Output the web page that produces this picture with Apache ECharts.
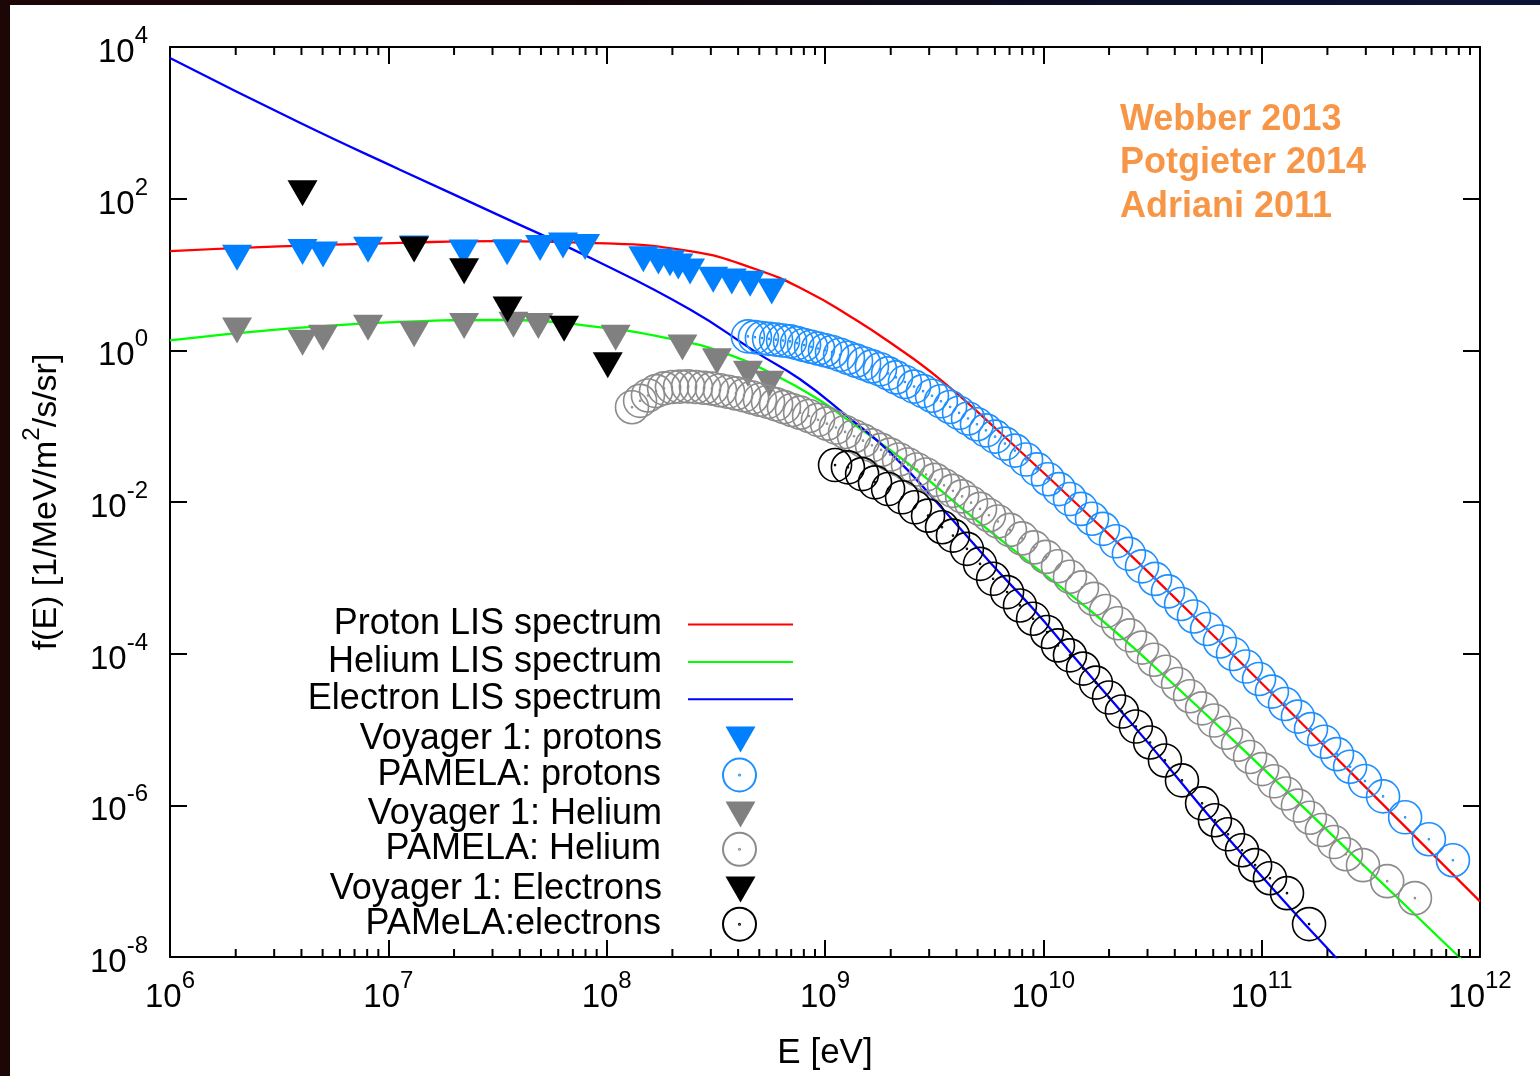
<!DOCTYPE html>
<html>
<head>
<meta charset="utf-8">
<script src="https://cdn.jsdelivr.net/npm/echarts@6/dist/echarts.min.js"></script>
<style>
html,body{margin:0;padding:0;width:1540px;height:1076px;overflow:hidden;
  background:linear-gradient(90deg,#1c0606 0%,#140608 40%,#0a0f2a 75%,#0c1436 100%);}
#chart{position:absolute;left:10px;top:5px;width:1530px;height:1071px;background:#ffffff;}
</style>
</head>
<body>
<div id="chart"></div>
<script>
// ---- data (log10 of E [eV] and log10 of f(E)) ----
const redLogE   = [6.0, 6.5, 7.053, 7.5, 7.924, 8.382, 8.687, 8.916, 9.114, 9.3, 9.527, 9.8, 10.26, 10.794, 11.4, 12.0];
const redLogF   = [1.307, 1.37, 1.417, 1.44, 1.417, 1.307, 1.066, 0.78, 0.45, 0.10, -0.382, -1.08, -2.316, -3.803, -5.543, -7.267];

const greenLogE = [6.0, 6.5, 7.0, 7.5, 7.924, 8.305, 8.534, 8.779, 8.992, 9.099, 9.374, 9.649, 9.954, 10.244, 10.489, 10.947, 11.405, 11.908, 12.0];
const greenLogF = [0.132, 0.276, 0.37, 0.40, 0.32, 0.145, -0.03, -0.338, -0.688, -0.908, -1.478, -2.136, -2.838, -3.50, -4.12, -5.35, -6.62, -8.01, -8.27];

const blueLogE  = [6.0, 6.595, 7.053, 7.5, 7.924, 8.382, 8.687, 8.886, 9.099, 9.298, 9.527, 9.770, 9.953, 10.136, 10.489, 10.794, 11.145, 11.328, 11.4];
const blueLogF  = [3.855, 3.0, 2.382, 1.79, 1.22, 0.539, -0.03, -0.382, -0.864, -1.346, -2.053, -2.842, -3.408, -4.026, -5.206, -6.259, -7.399, -7.97, -8.2];

const vpLogE = [6.307, 6.607, 6.701, 6.907, 7.118, 7.345, 7.544, 7.695, 7.800, 7.901, 8.168, 8.237, 8.290, 8.328, 8.382, 8.488, 8.573, 8.657, 8.756];
const vpLogF = [1.220, 1.296, 1.263, 1.325, 1.342, 1.289, 1.293, 1.351, 1.382, 1.364, 1.201, 1.171, 1.149, 1.105, 1.039, 0.930, 0.908, 0.878, 0.776];

const pamProtLogE = [8.647, 8.679, 8.711, 8.744, 8.776, 8.808, 8.840, 8.872, 8.904, 8.936, 8.968, 9.000, 9.032, 9.069, 9.105, 9.142, 9.179, 9.215, 9.252, 9.289, 9.325,
  9.366, 9.408, 9.449, 9.490, 9.531, 9.573, 9.614, 9.655, 9.696, 9.737, 9.779,
  9.824, 9.870, 9.921, 9.971, 10.021, 10.072, 10.122, 10.173, 10.223,
  10.273, 10.333, 10.392, 10.452, 10.512, 10.571, 10.631, 10.690, 10.750, 10.809, 10.869, 10.928, 10.988, 11.047, 11.107, 11.166, 11.226, 11.286, 11.345, 11.405, 11.473,
  11.556, 11.657, 11.766, 11.876];
const pamProtLogF = [0.184, 0.174, 0.162, 0.151, 0.141, 0.129, 0.118, 0.095, 0.071, 0.047, 0.024, 0.001, -0.022, -0.059, -0.097, -0.136, -0.174, -0.212, -0.250, -0.304, -0.357,
  -0.417, -0.478, -0.538, -0.599, -0.672, -0.747, -0.824, -0.899, -0.975, -1.055, -1.138,
  -1.230, -1.322, -1.440, -1.570, -1.700, -1.830, -1.961, -2.091, -2.221,
  -2.354, -2.518, -2.684, -2.849, -3.014, -3.179, -3.345, -3.509, -3.675, -3.839, -4.004, -4.170, -4.334, -4.500, -4.664, -4.830, -4.995, -5.161, -5.325, -5.491, -5.680,
  -5.882, -6.158, -6.447, -6.724];

const vhLogE = [6.307, 6.607, 6.701, 6.907, 7.118, 7.347, 7.573, 7.687, 8.041, 8.347, 8.505, 8.647, 8.746];
const vhLogF = [0.261, 0.101, 0.167, 0.299, 0.211, 0.320, 0.336, 0.320, 0.167, 0.036, -0.145, -0.309, -0.441];

const pamHeLogE = [8.116, 8.153, 8.189, 8.226, 8.263, 8.299, 8.336, 8.373, 8.409, 8.446, 8.482, 8.519, 8.556, 8.592, 8.629, 8.666, 8.702, 8.739, 8.776, 8.812, 8.849, 8.886,
  8.927, 8.968, 9.009, 9.050, 9.092, 9.133, 9.174, 9.215, 9.257, 9.298, 9.339, 9.380, 9.421, 9.463, 9.504, 9.545, 9.586, 9.628, 9.669, 9.710, 9.751, 9.792,
  9.847, 9.902, 9.957, 10.012, 10.067, 10.122, 10.177, 10.232, 10.287, 10.342, 10.397, 10.452, 10.507, 10.562, 10.617, 10.672, 10.727, 10.782, 10.837, 10.892, 10.947, 11.002, 11.057, 11.112, 11.166, 11.221, 11.276, 11.331, 11.386,
  11.464, 11.575, 11.702];
const pamHeLogF = [-0.750, -0.666, -0.595, -0.538, -0.501, -0.484, -0.478, -0.475, -0.484, -0.493, -0.505, -0.526, -0.547, -0.568, -0.593, -0.622, -0.651, -0.679, -0.712, -0.749, -0.786, -0.822,
  -0.866, -0.917, -0.967, -1.018, -1.076, -1.133, -1.191, -1.253, -1.313, -1.375, -1.439, -1.505, -1.571, -1.637, -1.708, -1.780, -1.853, -1.926, -2.009, -2.091, -2.174, -2.257,
  -2.368, -2.480, -2.599, -2.724, -2.847, -2.986, -3.126, -3.278, -3.438, -3.599, -3.759, -3.920, -4.080, -4.239, -4.400, -4.561, -4.721, -4.882, -5.042, -5.201, -5.362, -5.522, -5.683, -5.843, -6.004, -6.164, -6.325, -6.484, -6.645,
  -6.789, -7.000, -7.224];

const veLogE = [6.607, 7.118, 7.347, 7.546, 7.805, 8.005];
const veLogF = [2.070, 1.329, 1.043, 0.539, 0.283, -0.197];

const pamELogE = [9.046, 9.105, 9.170, 9.229, 9.289, 9.353, 9.412, 9.472, 9.536, 9.586, 9.650, 9.710, 9.770, 9.834, 9.893, 9.953, 10.017, 10.067, 10.122, 10.182, 10.241, 10.301, 10.360, 10.424, 10.489, 10.557, 10.635, 10.727, 10.786, 10.846, 10.910, 10.970, 11.038, 11.116, 11.217];
const pamELogF = [-1.513, -1.543, -1.632, -1.741, -1.829, -1.938, -2.070, -2.180, -2.333, -2.443, -2.618, -2.816, -3.013, -3.188, -3.364, -3.539, -3.714, -3.891, -4.022, -4.197, -4.382, -4.579, -4.763, -4.961, -5.171, -5.408, -5.671, -5.974, -6.197, -6.382, -6.592, -6.789, -6.961, -7.158, -7.566];

const seriesNames = ['Proton LIS spectrum', 'Helium LIS spectrum', 'Electron LIS spectrum',
  'Voyager 1: protons', 'PAMELA: protons', 'Voyager 1: Helium', 'PAMELA: Helium',
  'Voyager 1: Electrons', 'PAMeLA:electrons'];
const notes = ['Webber 2013', 'Potgieter 2014', 'Adriani 2011'];

const X_MIN = 1e6, X_MAX = 1e12, Y_MIN = 1e-8, Y_MAX = 1e4;
const minorMultipliers = [2, 3, 4, 5, 6, 7, 8, 9];
const minorDecades = [1e6, 1e7, 1e8, 1e9, 1e10, 1e11];

// ---- build ----
const pairs = (le, lf) => le.map((e, i) => [Math.pow(10, e), Math.pow(10, lf[i])]);
const minorTicks = [];
minorDecades.forEach(d => minorMultipliers.forEach(m => minorTicks.push([m * d, 1])));

const FONT = '"Liberation Sans", Arial, Helvetica, sans-serif';
const TRI = 'path://M0,0L30,0L15,26Z';
const RING = 'path://M16,0A16,16,0,1,1,16,32A16,16,0,1,1,16,0ZM16,15.5A0.5,0.5,0,1,1,16,16.5A0.5,0.5,0,1,1,16,15.5Z';

const supRich = {
  b: {fontSize: 33, fontFamily: FONT, color: '#000', lineHeight: 45, padding: [12, 0, 0, 0], verticalAlign: 'bottom'},
  s: {fontSize: 24, fontFamily: FONT, color: '#000', verticalAlign: 'top'}
};
const powLabel = v => '{b|10}{s|' + Math.round(Math.log10(v)) + '}';

const tickStyle = {show: true, inside: true, length: 17, lineStyle: {color: '#000', width: 2}};
const lineAxis = {show: true, onZero: false, lineStyle: {color: '#000', width: 2}};

function lineSeries(name, le, lf, color) {
  return {name, type: 'line', data: pairs(le, lf), symbol: 'none', showSymbol: false,
    smooth: 0.5, lineStyle: {color, width: 2.3}, itemStyle: {color}, z: 2};
}
function triSeries(name, le, lf, color) {
  return {name, type: 'scatter', data: pairs(le, lf), symbol: TRI, symbolSize: [30, 26],
    itemStyle: {color, borderWidth: 0, opacity: 1}, z: 3};
}
function ringSeries(name, le, lf, color) {
  return {name, type: 'scatter', data: pairs(le, lf), symbol: RING, symbolSize: 33,
    itemStyle: {color: 'rgba(0,0,0,0)', borderColor: color, borderWidth: 1.6, opacity: 1}, z: 3};
}

const rowLayout = [
  {cy: 624.5, h: 2, icon: 'rect'}, {cy: 662, h: 2, icon: 'rect'}, {cy: 699.3, h: 2, icon: 'rect'},
  {cy: 739.5, h: 26, r: 784.5}, {cy: 775, h: 33, r: 783}, {cy: 814.5, h: 26, r: 784.5},
  {cy: 849.3, h: 33, r: 783}, {cy: 889.5, h: 26, r: 784.5}, {cy: 924.2, h: 33, r: 783}
];
const legends = seriesNames.map((n, i) => {
  const row = rowLayout[i];
  const lg = {
    data: [n], orient: 'vertical', align: 'right', selectedMode: false, padding: 0,
    right: row.r !== undefined ? row.r : 747,
    top: row.cy - 5 - 18,
    itemWidth: 105, itemHeight: row.h,
    textStyle: {fontSize: 36, fontFamily: FONT, color: '#000', lineHeight: 36, padding: [0, 21, 0, 0]}
  };
  if (row.icon) lg.icon = row.icon;
  return lg;
});

const chart = echarts.init(document.getElementById('chart'), null, {renderer: 'canvas'});
chart.setOption({
  animation: false,
  backgroundColor: '#ffffff',
  grid: {left: 160, right: 60, top: 42, bottom: 117, containLabel: false},
  legend: legends,
  xAxis: [
    {type: 'log', logBase: 10, min: X_MIN, max: X_MAX, position: 'bottom',
      axisLine: lineAxis, axisTick: tickStyle, splitLine: {show: false},
      axisLabel: {margin: 12, formatter: powLabel, rich: supRich},
      name: 'E [eV]', nameLocation: 'middle', nameGap: 79,
      nameTextStyle: {fontSize: 35, fontFamily: FONT, color: '#000'}},
    {type: 'log', logBase: 10, min: X_MIN, max: X_MAX, position: 'top',
      axisLine: lineAxis, axisTick: tickStyle, splitLine: {show: false}, axisLabel: {show: false}}
  ],
  yAxis: [
    {type: 'log', logBase: 10, min: Y_MIN, max: Y_MAX, position: 'left', interval: 2,
      axisLine: lineAxis, axisTick: tickStyle, splitLine: {show: false},
      axisLabel: {margin: 22, formatter: powLabel, rich: supRich},
      name: '{n|f(E) [1/MeV/m}{s|2}{n|/s/sr]}', nameLocation: 'middle', nameGap: 106, nameRotate: 90,
      nameTextStyle: {fontSize: 34, fontFamily: FONT, color: '#000', rich: {
        n: {fontSize: 34, fontFamily: FONT, color: '#000', lineHeight: 44, padding: [10, 0, 0, 0], verticalAlign: 'bottom'},
        s: {fontSize: 24, fontFamily: FONT, color: '#000', verticalAlign: 'top'}}}},
    {type: 'log', logBase: 10, min: Y_MIN, max: Y_MAX, position: 'right', interval: 2,
      axisLine: lineAxis, axisTick: tickStyle, splitLine: {show: false}, axisLabel: {show: false}}
  ],
  graphic: notes.map((t, i) => ({
    type: 'text', x: 1110, y: 115 + i * 43.5, silent: true,
    style: {text: t, fontSize: 36, fontWeight: 'bold', fontFamily: FONT, fill: '#f79646', verticalAlign: 'middle'}
  })),
  series: [
    lineSeries(seriesNames[0], redLogE, redLogF, '#ff0000'),
    lineSeries(seriesNames[1], greenLogE, greenLogF, '#00ff00'),
    lineSeries(seriesNames[2], blueLogE, blueLogF, '#0000ff'),
    triSeries(seriesNames[3], vpLogE, vpLogF, '#0080ff'),
    ringSeries(seriesNames[4], pamProtLogE, pamProtLogF, '#1e8fff'),
    triSeries(seriesNames[5], vhLogE, vhLogF, '#808080'),
    ringSeries(seriesNames[6], pamHeLogE, pamHeLogF, '#8c8c8c'),
    triSeries(seriesNames[7], veLogE, veLogF, '#000000'),
    ringSeries(seriesNames[8], pamELogE, pamELogF, '#000000'),
    {type: 'custom', silent: true, clip: false, z: 10, data: minorTicks,
      renderItem: function (params, api) {
        const v = api.value(0);
        const b = api.coord([v, Y_MIN]);
        const t = api.coord([v, Y_MAX]);
        return {type: 'group', children: [
          {type: 'line', shape: {x1: b[0], y1: b[1], x2: b[0], y2: b[1] - 8}, style: {stroke: '#000', lineWidth: 2}},
          {type: 'line', shape: {x1: t[0], y1: t[1], x2: t[0], y2: t[1] + 8}, style: {stroke: '#000', lineWidth: 2}}
        ]};
      }}
  ]
});
</script>
</body>
</html>
